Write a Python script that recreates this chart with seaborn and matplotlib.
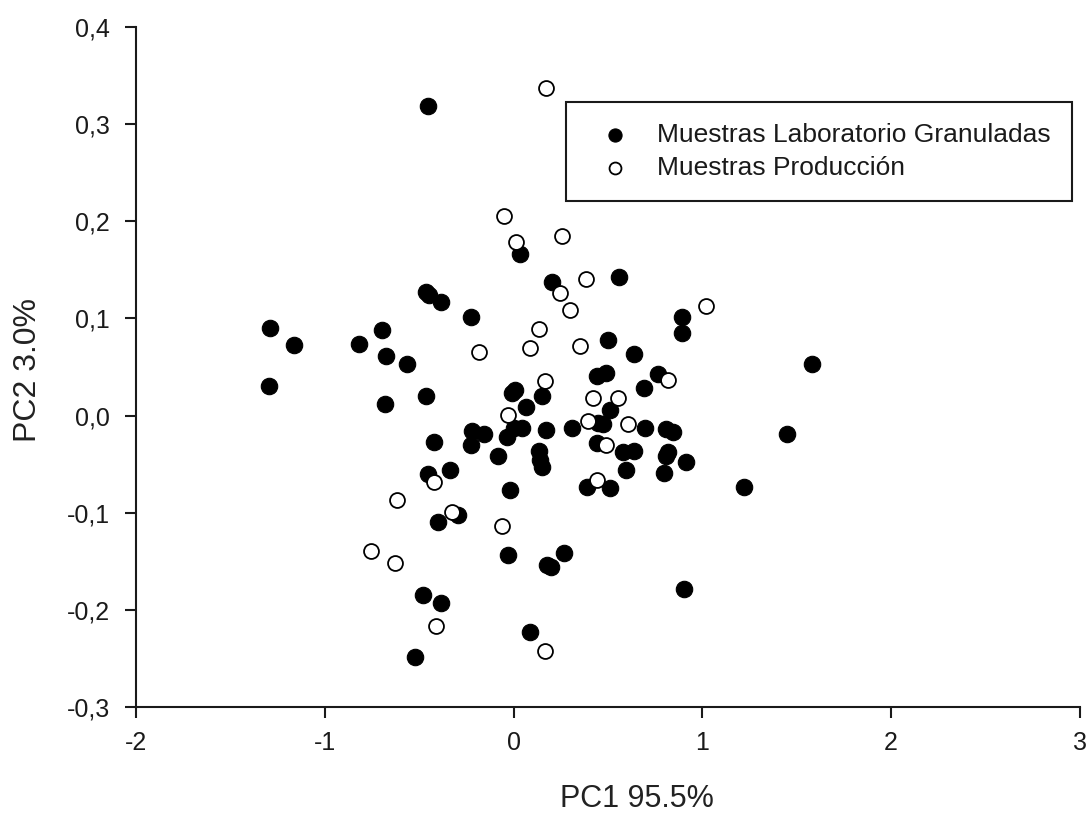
import matplotlib
matplotlib.use("Agg")
import matplotlib.pyplot as plt
from matplotlib.ticker import FuncFormatter, FixedLocator
import seaborn as sns
import pandas as pd

# PCA scores: granulated laboratory samples
lab_pc1 = [-0.452, -1.288, -1.161, -1.297, -0.818, -0.695, -0.674, -0.567, -0.683, -0.466,
           -0.449, -0.387, -0.228, -0.462, 0.035, 0.202, 0.558, 0.893, 0.893, 0.501,
           0.639, 1.583, 1.446, 1.219, 0.902, 0.913, 0.440, 0.492, 0.765, 0.691,
           0.512, 0.308, 0.449, 0.475, 0.697, 0.809, 0.844, 0.440, 0.580, 0.639,
           0.818, 0.809, 0.594, 0.797, 0.391, 0.510, 0.009, -0.009, 0.150, 0.066,
           -0.220, -0.157, -0.228, -0.035, 0.000, 0.044, 0.174, -0.082, 0.132, 0.141,
           0.149, -0.421, -0.452, -0.335, -0.021, -0.399, -0.296, -0.029, 0.269, 0.199,
           -0.479, -0.387, -0.520, 0.088, 0.179]
lab_pc2 = [0.319, 0.090, 0.073, 0.030, 0.074, 0.088, 0.061, 0.053, 0.012, 0.127,
           0.124, 0.117, 0.102, 0.020, 0.166, 0.138, 0.143, 0.102, 0.085, 0.078,
           0.063, 0.053, -0.019, -0.073, -0.178, -0.048, 0.041, 0.044, 0.043, 0.028,
           0.006, -0.013, -0.008, -0.009, -0.013, -0.014, -0.017, -0.028, -0.037, -0.036,
           -0.037, -0.042, -0.056, -0.059, -0.073, -0.075, 0.026, 0.023, 0.020, 0.009,
           -0.016, -0.019, -0.030, -0.022, -0.013, -0.013, -0.015, -0.042, -0.036, -0.046,
           -0.053, -0.027, -0.060, -0.056, -0.077, -0.110, -0.102, -0.143, -0.141, -0.156,
           -0.185, -0.193, -0.248, -0.223, -0.154]

# PCA scores: production samples
prod_pc1 = [0.173, -0.050, 0.012, 0.257, 0.383, 0.246, 0.299, 0.136, 1.020, -0.185,
            0.088, 0.352, 0.164, 0.818, 0.422, 0.554, -0.030, 0.393, 0.607, 0.492,
            0.440, -0.422, -0.620, -0.326, -0.062, -0.758, -0.630, -0.410, 0.167]
prod_pc2 = [0.337, 0.205, 0.179, 0.185, 0.141, 0.126, 0.109, 0.089, 0.113, 0.065,
            0.070, 0.072, 0.036, 0.037, 0.018, 0.018, 0.001, -0.006, -0.009, -0.030,
            -0.066, -0.068, -0.087, -0.099, -0.114, -0.139, -0.152, -0.217, -0.242]

group_names = ["Muestras Laboratorio Granuladas", "Muestras Producción"]
x_ticks = [-2, -1, 0, 1, 2, 3]
y_ticks = [-0.3, -0.2, -0.1, 0.0, 0.1, 0.2, 0.3, 0.4]
x_title = "PC1 95.5%"
y_title = "PC2 3.0%"

sns.set_theme(style="ticks")
plt.rcParams["font.family"] = ["Liberation Sans", "DejaVu Sans"]

lab = pd.DataFrame({"PC1": lab_pc1, "PC2": lab_pc2})
prod = pd.DataFrame({"PC1": prod_pc1, "PC2": prod_pc2})

fig = plt.figure(figsize=(10.9, 8.14), dpi=100)
ax = fig.add_axes([0.1248, 0.1314, 0.8660, 0.8354])

ink = "#1a1a1a"
sns.scatterplot(data=lab, x="PC1", y="PC2", ax=ax, s=140, marker="o",
                color="black", edgecolor="black", linewidth=0.8,
                label=group_names[0], zorder=3)
sns.scatterplot(data=prod, x="PC1", y="PC2", ax=ax, s=115, marker="o",
                facecolor="white", edgecolor="black", linewidth=1.3,
                label=group_names[1], zorder=4)

ax.set_xlim(-2, 3)
ax.set_ylim(-0.3, 0.4)
ax.xaxis.set_major_locator(FixedLocator(x_ticks))
ax.yaxis.set_major_locator(FixedLocator(y_ticks))
ax.xaxis.set_major_formatter(FuncFormatter(lambda v, _: f"{v:.0f}".replace("\u2212", "-")))
ax.yaxis.set_major_formatter(FuncFormatter(lambda v, _: f"{v:.1f}".replace(".", ",")))

for side in ["top", "right"]:
    ax.spines[side].set_visible(False)
for side in ["left", "bottom"]:
    ax.spines[side].set_color(ink)
    ax.spines[side].set_linewidth(1.5)

ax.tick_params(axis="both", direction="out", length=8, width=1.5, color=ink,
               labelsize=18, labelcolor=ink)
ax.tick_params(axis="y", pad=11)
ax.tick_params(axis="x", pad=9)

ax.set_xlabel(x_title, fontsize=22, color="#222222")
ax.set_ylabel(y_title, fontsize=23, color="#222222")
ax.xaxis.set_label_coords(0.531, -0.113)
ax.yaxis.set_label_coords(-0.099, 0.495)

leg = ax.legend(loc="upper left", bbox_to_anchor=(0.4555, 0.8897),
                fontsize=19, frameon=True, fancybox=False, framealpha=1,
                edgecolor=ink, borderpad=0.8, handletextpad=0.55,
                borderaxespad=0, labelspacing=0.35, markerscale=0.8,
                handlelength=2.1)
leg.get_frame().set_linewidth(1.5)
for t in leg.get_texts():
    t.set_color(ink)

fig.savefig("out.png", dpi=100, facecolor="white")
